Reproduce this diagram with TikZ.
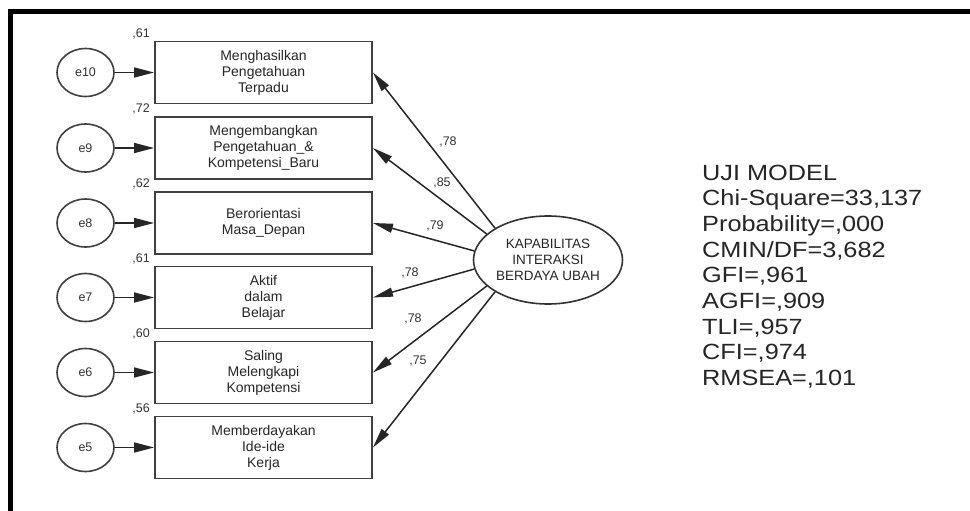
\documentclass[tikz,border=0pt]{standalone}
\usepackage{fontspec}
\usepackage{graphicx}
\setmainfont{Liberation Sans}
\usetikzlibrary{arrows.meta,shapes.geometric}
\begin{document}
\begin{tikzpicture}[x=1pt,y=-1pt,
  ind/.style={draw=black!75, line width=1.9pt, minimum width=217pt, minimum height=62pt,
    inner sep=0pt, align=center, font=\fontsize{14}{16}\selectfont, text=black!85},
  err/.style={ellipse, draw=black!75, line width=1.6pt, minimum width=57pt, minimum height=48pt,
    inner sep=0pt, font=\fontsize{12.5}{14}\selectfont, text=black!80},
  latent/.style={ellipse, draw=black!80, line width=1.6pt, minimum width=149pt, minimum height=88pt,
    inner sep=0pt, align=center, font=\fontsize{13.5}{16}\selectfont, text=black!85},
  loadarr/.style={draw=black!85, line width=1.5pt, -{Triangle[length=20pt,width=9pt]}},
  errarr/.style={draw=black!85, line width=1.5pt, -{Triangle[length=20pt,width=10pt]}},
  coef/.style={font=\fontsize{12.5}{14}\selectfont, text=black!80, inner sep=0pt},
  stat/.style={anchor=base west, inner sep=0pt, font=\fontsize{22}{25}\selectfont, text=black!85}
]
\useasboundingbox[fill=white] (0,0) rectangle (970,511);

% frame (top and left edges)
\draw[line width=5pt] (970,11.5) -- (10.8,11.5) -- (10.8,511);

% indicator boxes
\node[ind] (b1) at (263.5,72.5)  {Menghasilkan\\Pengetahuan\\Terpadu};
\node[ind] (b2) at (263.5,148)   {Mengembangkan\\Pengetahuan\_\&\\Kompetensi\_Baru};
\node[ind] (b3) at (263.5,223)   {Berorientasi\\Masa\_Depan};
\node[ind] (b4) at (263.5,297.5) {Aktif\\dalam\\Belajar};
\node[ind] (b5) at (263.5,372.5) {Saling\\Melengkapi\\Kompetensi};
\node[ind] (b6) at (263.5,447.5) {Memberdayakan\\Ide-ide\\Kerja};

% error terms
\node[err] (e10) at (85.5,72.5)  {e10};
\node[err] (e9)  at (85.5,148)   {e9};
\node[err] (e8)  at (85.5,223)   {e8};
\node[err] (e7)  at (85.5,297.5) {e7};
\node[err] (e6)  at (85.5,372.5) {e6};
\node[err] (e5)  at (85.5,447.5) {e5};

\draw[errarr] (e10) -- (b1);
\draw[errarr] (e9)  -- (b2);
\draw[errarr] (e8)  -- (b3);
\draw[errarr] (e7)  -- (b4);
\draw[errarr] (e6)  -- (b5);
\draw[errarr] (e5)  -- (b6);

% squared multiple correlations
\node[coef, anchor=east] (r1) at ([shift={(-4,-7)}]b1.north west) {,61};
\node[coef, anchor=east] (r2) at ([shift={(-4,-7)}]b2.north west) {,72};
\node[coef, anchor=east] (r3) at ([shift={(-4,-7)}]b3.north west) {,62};
\node[coef, anchor=east] (r4) at ([shift={(-4,-7)}]b4.north west) {,61};
\node[coef, anchor=east] (r5) at ([shift={(-4,-7)}]b5.north west) {,60};
\node[coef, anchor=east] (r6) at ([shift={(-4,-7)}]b6.north west) {,56};

% latent construct
\node[latent] (lv) at (548,260) {KAPABILITAS\\INTERAKSI\\BERDAYA UBAH};

% loadings
\draw[loadarr] (lv.149) -- (b1.east);
\draw[loadarr] (lv.157) -- (b2.east);
\draw[loadarr] (lv.173) -- (b3.east);
\draw[loadarr] (lv.187) -- (b4.east);
\draw[loadarr] (lv.203) -- (b5.east);
\draw[loadarr] (lv.211) -- (b6.east);

\node[coef] (l1) at (448,142) {,78};
\node[coef] (l2) at (442,183) {,85};
\node[coef] (l3) at (435,226) {,79};
\node[coef] (l4) at (410,273) {,78};
\node[coef] (l5) at (413,319) {,78};
\node[coef] (l6) at (418,361) {,75};

% model fit summary
\node[stat] (s1) at (702,180)   {\scalebox{1.15}[1]{UJI MODEL}};
\node[stat] (s2) at (702,205.7) {\scalebox{1.15}[1]{Chi-Square=33,137}};
\node[stat] (s3) at (702,231.4) {\scalebox{1.15}[1]{Probability=,000}};
\node[stat] (s4) at (702,257.1) {\scalebox{1.15}[1]{CMIN/DF=3,682}};
\node[stat] (s5) at (702,282.8) {\scalebox{1.15}[1]{GFI=,961}};
\node[stat] (s6) at (702,308.5) {\scalebox{1.15}[1]{AGFI=,909}};
\node[stat] (s7) at (702,334.2) {\scalebox{1.15}[1]{TLI=,957}};
\node[stat] (s8) at (702,359.9) {\scalebox{1.15}[1]{CFI=,974}};
\node[stat] (s9) at (702,385.6) {\scalebox{1.15}[1]{RMSEA=,101}};
\end{tikzpicture}
\end{document}
